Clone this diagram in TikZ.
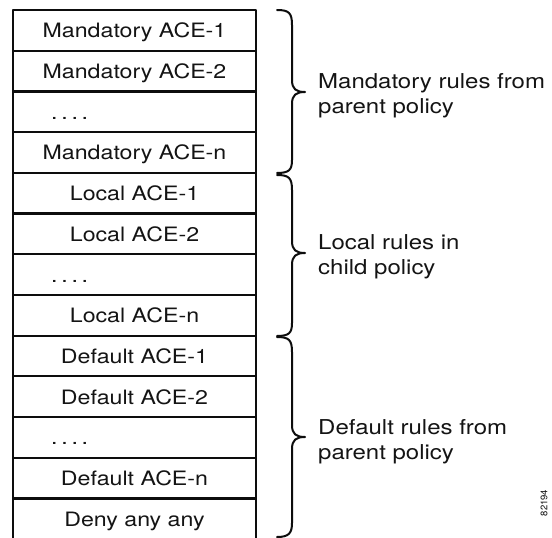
\documentclass[tikz,border=0pt]{standalone}
\usepackage{fontspec}
\setmainfont{TeX Gyre Heros}
\newcommand\xwide[1]{\scalebox{1.17}[1]{#1}}
\newcommand\fourdots{.\kern3.2pt.\kern3.2pt.\kern3.2pt.}
\begin{document}
\begin{tikzpicture}[x=1pt,y=-1pt,line join=round]
\tikzset{
  frame/.style={line width=2.2pt, black!95},
  bracepath/.style={line width=2pt, black!95, line cap=round},
  cell/.style={anchor=base, inner sep=0pt, text=black!92, font=\fontsize{19.8}{23}\selectfont},
  dotcell/.style={anchor=base west, inner sep=0pt, text=black!92, font=\fontsize{19.8}{23}\selectfont},
  label/.style={anchor=base west, inner sep=0pt, align=left, text=black!92, font=\fontsize{20.5}{25}\selectfont},
  fignum/.style={inner sep=0pt, rotate=90, text=black!92, font=\fontsize{9.5}{11}\selectfont}
}
\useasboundingbox (0,0) rectangle (552,538);
\fill[white] (0,0) rectangle (552,538);
% rows
\foreach \i in {1,...,12}{
  \draw[frame] (13,{10+40.7*\i}) -- (256,{10+40.7*\i});
}
\draw[frame] (13,545) -- (13,10) -- (256,10) -- (256,545);
% cell texts
\node[cell] (m1) at (134.5,{10+40.7*0.5+7.5}) {\xwide{Mandatory ACE-1}};
\node[cell] (m2) at (134.5,{10+40.7*1.5+7.5}) {\xwide{Mandatory ACE-2}};
\node[dotcell] (m3) at (51,{10+40.7*2.5+7.5}) {\xwide{\fourdots}};
\node[cell] (m4) at (134.5,{10+40.7*3.5+7.5}) {\xwide{Mandatory ACE-n}};
\node[cell] (l1) at (134.5,{10+40.7*4.5+7.5}) {\xwide{Local ACE-1}};
\node[cell] (l2) at (134.5,{10+40.7*5.5+7.5}) {\xwide{Local ACE-2}};
\node[dotcell] (l3) at (51,{10+40.7*6.5+7.5}) {\xwide{\fourdots}};
\node[cell] (l4) at (134.5,{10+40.7*7.5+7.5}) {\xwide{Local ACE-n}};
\node[cell] (d1) at (134.5,{10+40.7*8.5+7.5}) {\xwide{Default ACE-1}};
\node[cell] (d2) at (134.5,{10+40.7*9.5+7.5}) {\xwide{Default ACE-2}};
\node[dotcell] (d3) at (51,{10+40.7*10.5+7.5}) {\xwide{\fourdots}};
\node[cell] (d4) at (134.5,{10+40.7*11.5+7.5}) {\xwide{Default ACE-n}};
\node[cell] (d5) at (134.5,{10+40.7*12.5+7.5}) {\xwide{Deny any any}};
% braces
\draw[bracepath] (277,10) .. controls (289,10) and (292,13) .. (292,25)
  -- (292,80) .. controls (292,89) and (296,92) .. (305,92)
  .. controls (296,92) and (292,95) .. (292,104)
  -- (292,160) .. controls (292,170) and (289,173) .. (277,173);
\draw[bracepath] (277,175) .. controls (289,175) and (292,178) .. (292,190)
  -- (292,241) .. controls (292,250) and (296,253) .. (305,253)
  .. controls (296,253) and (292,256) .. (292,265)
  -- (292,323) .. controls (292,333) and (289,336) .. (277,336);
\draw[bracepath] (277,337) .. controls (289,337) and (292,340) .. (292,352)
  -- (292,425) .. controls (292,434) and (296,437) .. (305,437)
  .. controls (296,437) and (292,440) .. (292,449)
  -- (292,523) .. controls (292,533) and (289,537) .. (277,537);
% labels (base anchor = baseline of the last line)
\node[label] (lm) at (318,113) {\xwide{Mandatory rules from}\\\xwide{parent policy}};
\node[label] (ll) at (318,274) {\xwide{Local rules in}\\\xwide{child policy}};
\node[label] (ld) at (318,459) {\xwide{Default rules from}\\\xwide{parent policy}};
\node[fignum] (fn) at (544,503) {82194};
\end{tikzpicture}
\end{document}
